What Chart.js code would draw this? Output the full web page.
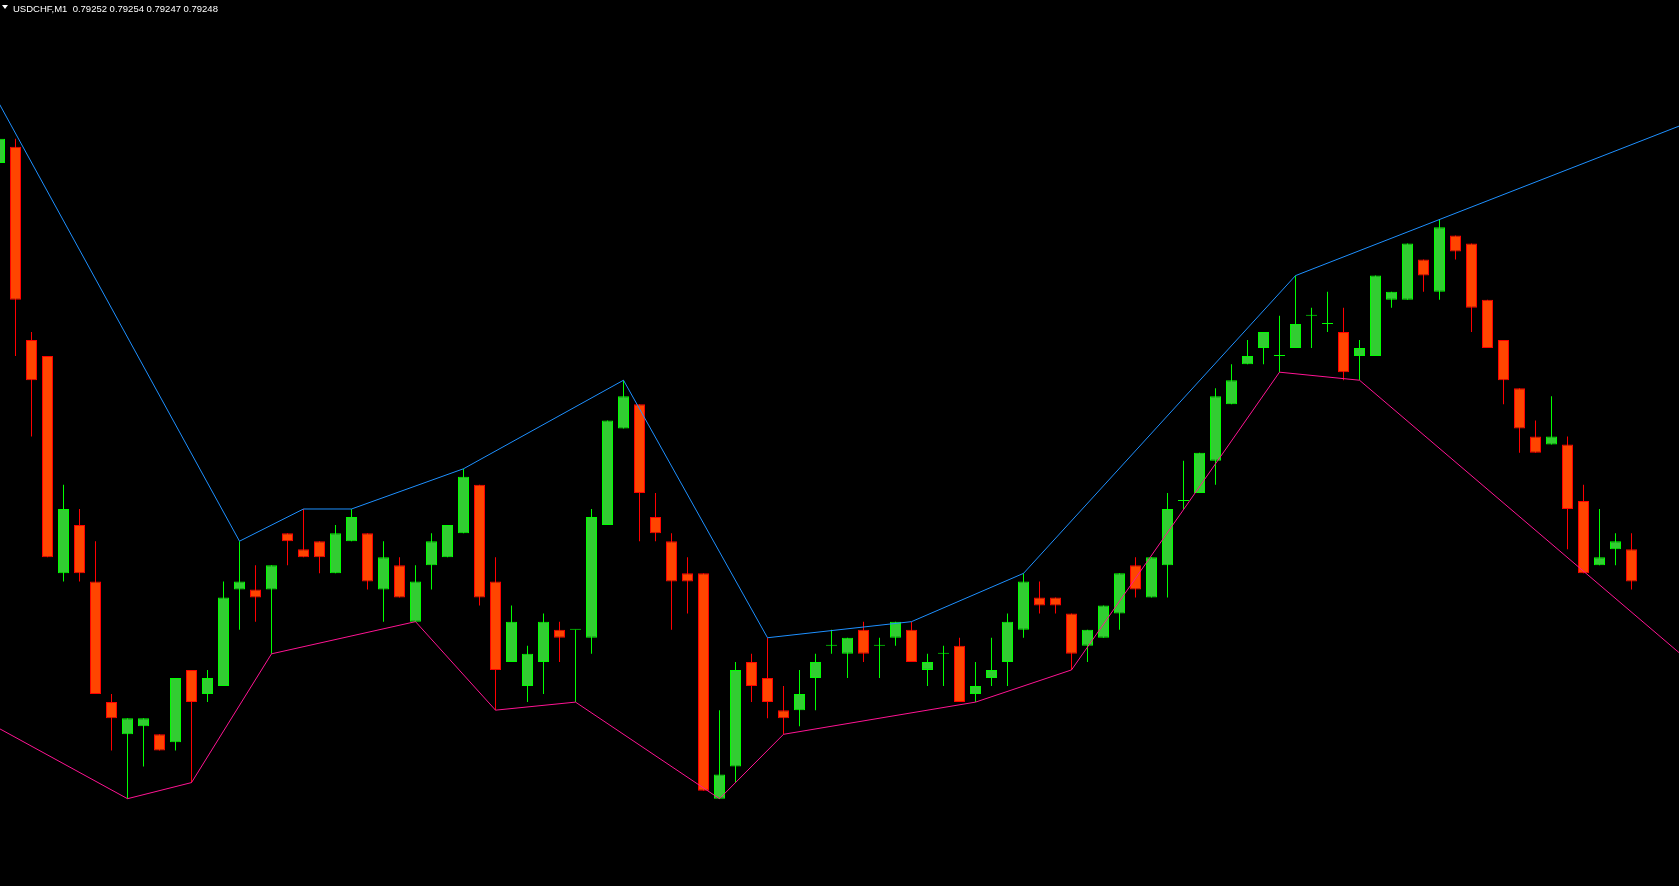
<!DOCTYPE html>
<html>
<head>
<meta charset="utf-8">
<title>USDCHF,M1</title>
<script src="https://cdn.jsdelivr.net/npm/chart.js@4.4.1/dist/chart.umd.min.js"></script>
<style>
  html, body { margin: 0; padding: 0; background: #000; overflow: hidden; }
  #wrap { position: relative; width: 1679px; height: 886px; background: #000; }
  #chart { display: block; }
  #caption {
    position: absolute; left: 13px; top: 4px;
    color: #fff; font-family: "Liberation Sans", Arial, sans-serif;
    font-size: 9.5px; line-height: 10px; white-space: pre;
  }
  #tri {
    position: absolute; left: 2px; top: 5px; width: 0; height: 0;
    border-left: 3px solid transparent; border-right: 3px solid transparent;
    border-top: 4px solid #fff;
  }
</style>
</head>
<body>
<div id="wrap">
  <canvas id="chart" width="1679" height="886"></canvas>
  <div id="tri"></div>
  <div id="caption"></div>
</div>
<script>
// header of the chart window
const symbol = 'USDCHF,M1';
const lastBar = [0.79252, 0.79254, 0.79247, 0.79248]; // O H L C

// one minute candles, oldest first
const opens = [
  0.79300, 0.79302, 0.79278, 0.79276, 0.79249, 0.79255, 0.79248, 0.79233, 0.79229, 0.79230,
  0.79229, 0.79228, 0.79237, 0.79234, 0.79235, 0.79247, 0.79247, 0.79247, 0.79254, 0.79252,
  0.79253, 0.79249, 0.79253, 0.79254, 0.79247, 0.79250, 0.79243, 0.79250, 0.79251, 0.79254,
  0.79260, 0.79248, 0.79238, 0.79235, 0.79238, 0.79242, 0.79242, 0.79241, 0.79255, 0.79267,
  0.79270, 0.79256, 0.79253, 0.79249, 0.79249, 0.79221, 0.79225, 0.79238, 0.79236, 0.79232,
  0.79232, 0.79236, 0.79240, 0.79239, 0.79242, 0.79240, 0.79241, 0.79242, 0.79237, 0.79239,
  0.79240, 0.79234, 0.79236, 0.79238, 0.79242, 0.79246, 0.79246, 0.79244, 0.79240, 0.79241,
  0.79244, 0.79250, 0.79246, 0.79250, 0.79258, 0.79259, 0.79263, 0.79270, 0.79275, 0.79277,
  0.79276, 0.79277, 0.79281, 0.79280, 0.79279, 0.79276, 0.79276, 0.79283, 0.79283, 0.79288,
  0.79284, 0.79291, 0.79290, 0.79283, 0.79278, 0.79272, 0.79266, 0.79265, 0.79265, 0.79258,
  0.79250, 0.79252, 0.79252
];
const highs = [
  0.79304, 0.79303, 0.79279, 0.79276, 0.79260, 0.79257, 0.79253, 0.79234, 0.79231, 0.79231,
  0.79229, 0.79236, 0.79237, 0.79237, 0.79248, 0.79253, 0.79250, 0.79250, 0.79254, 0.79257,
  0.79253, 0.79255, 0.79257, 0.79254, 0.79253, 0.79251, 0.79250, 0.79254, 0.79255, 0.79262,
  0.79260, 0.79251, 0.79245, 0.79240, 0.79244, 0.79243, 0.79242, 0.79257, 0.79268, 0.79273,
  0.79270, 0.79259, 0.79254, 0.79251, 0.79249, 0.79232, 0.79238, 0.79239, 0.79241, 0.79235,
  0.79237, 0.79239, 0.79242, 0.79241, 0.79243, 0.79241, 0.79243, 0.79243, 0.79239, 0.79240,
  0.79241, 0.79238, 0.79241, 0.79244, 0.79249, 0.79248, 0.79246, 0.79244, 0.79242, 0.79245,
  0.79249, 0.79251, 0.79251, 0.79259, 0.79263, 0.79264, 0.79272, 0.79275, 0.79278, 0.79279,
  0.79281, 0.79286, 0.79282, 0.79284, 0.79282, 0.79278, 0.79286, 0.79284, 0.79290, 0.79288,
  0.79293, 0.79291, 0.79290, 0.79283, 0.79278, 0.79272, 0.79268, 0.79271, 0.79266, 0.79260,
  0.79257, 0.79254, 0.79254
];
const lows = [
  0.79299, 0.79276, 0.79266, 0.79251, 0.79248, 0.79248, 0.79234, 0.79227, 0.79221, 0.79225,
  0.79227, 0.79227, 0.79223, 0.79233, 0.79235, 0.79242, 0.79243, 0.79239, 0.79250, 0.79251,
  0.79249, 0.79249, 0.79253, 0.79247, 0.79243, 0.79246, 0.79243, 0.79247, 0.79251, 0.79254,
  0.79245, 0.79232, 0.79238, 0.79233, 0.79234, 0.79238, 0.79233, 0.79239, 0.79255, 0.79267,
  0.79253, 0.79253, 0.79242, 0.79244, 0.79222, 0.79221, 0.79223, 0.79233, 0.79231, 0.79229,
  0.79230, 0.79232, 0.79239, 0.79236, 0.79238, 0.79236, 0.79240, 0.79238, 0.79235, 0.79235,
  0.79233, 0.79233, 0.79235, 0.79235, 0.79241, 0.79244, 0.79244, 0.79237, 0.79238, 0.79241,
  0.79242, 0.79246, 0.79246, 0.79246, 0.79257, 0.79259, 0.79260, 0.79270, 0.79275, 0.79275,
  0.79274, 0.79277, 0.79277, 0.79279, 0.79273, 0.79273, 0.79276, 0.79282, 0.79283, 0.79284,
  0.79283, 0.79288, 0.79279, 0.79277, 0.79270, 0.79264, 0.79264, 0.79265, 0.79252, 0.79249,
  0.79250, 0.79250, 0.79247
];
const closes = [
  0.79303, 0.79283, 0.79273, 0.79251, 0.79257, 0.79249, 0.79234, 0.79231, 0.79231, 0.79231,
  0.79227, 0.79236, 0.79233, 0.79236, 0.79246, 0.79248, 0.79246, 0.79250, 0.79253, 0.79251,
  0.79251, 0.79254, 0.79256, 0.79248, 0.79251, 0.79246, 0.79248, 0.79253, 0.79255, 0.79261,
  0.79246, 0.79237, 0.79243, 0.79239, 0.79243, 0.79241, 0.79242, 0.79256, 0.79268, 0.79271,
  0.79259, 0.79254, 0.79248, 0.79248, 0.79222, 0.79224, 0.79237, 0.79235, 0.79233, 0.79231,
  0.79234, 0.79238, 0.79240, 0.79241, 0.79239, 0.79240, 0.79243, 0.79238, 0.79238, 0.79239,
  0.79233, 0.79235, 0.79237, 0.79243, 0.79248, 0.79245, 0.79245, 0.79239, 0.79242, 0.79245,
  0.79249, 0.79247, 0.79251, 0.79257, 0.79258, 0.79264, 0.79271, 0.79273, 0.79276, 0.79279,
  0.79276, 0.79280, 0.79281, 0.79280, 0.79274, 0.79277, 0.79286, 0.79284, 0.79290, 0.79286,
  0.79292, 0.79289, 0.79282, 0.79277, 0.79273, 0.79267, 0.79264, 0.79266, 0.79257, 0.79249,
  0.79251, 0.79253, 0.79248
];

// channel lines: bar index of each turning point and its price
const upperBars = [0, 15, 19, 22, 29, 39, 48, 57, 64, 81, 105];
const upperVals = [0.793073, 0.79253, 0.79257, 0.79257, 0.79262, 0.79273, 0.79241, 0.79243, 0.79249, 0.79286, 0.793046];
const lowerBars = [0, 8, 12, 17, 26, 31, 36, 45, 49, 61, 67, 80, 85, 105];
const lowerVals = [0.792297, 0.79221, 0.79223, 0.79239, 0.79243, 0.79232, 0.79233, 0.79221, 0.79229, 0.79233, 0.79237, 0.79274, 0.79273, 0.792391];

document.getElementById('caption').textContent =
  symbol + '  ' + lastBar.map(v => v.toFixed(5)).join(' ');

const up = closes.map((c, i) => c >= opens[i]);

new Chart(document.getElementById('chart'), {
  type: 'bar',
  data: {
    datasets: [
      {
        type: 'line',
        data: upperBars.map((x, i) => ({ x: x, y: upperVals[i] })),
        borderColor: '#1E90FF',
        borderWidth: 1,
        pointRadius: 0,
        tension: 0,
        order: 0
      },
      {
        type: 'line',
        data: lowerBars.map((x, i) => ({ x: x, y: lowerVals[i] })),
        borderColor: '#FF1493',
        borderWidth: 1,
        pointRadius: 0,
        tension: 0,
        order: 0
      },
      {
        // bodies
        data: closes.map((c, i) => ({ x: i, y: [opens[i], c] })),
        backgroundColor: up.map(u => u ? '#32CD32' : '#FF4500'),
        borderColor: up.map(u => u ? '#00FF00' : '#FF0000'),
        borderWidth: 1,
        borderSkipped: false,
        inflateAmount: 0,
        minBarLength: 1,
        barThickness: 11,
        grouped: false,
        order: 1
      },
      {
        // wicks
        data: closes.map((c, i) => ({ x: i, y: [lows[i], highs[i]] })),
        backgroundColor: up.map(u => u ? '#00FF00' : '#FF0000'),
        borderWidth: 0,
        inflateAmount: 0,
        minBarLength: 1,
        barThickness: 1,
        grouped: false,
        order: 2
      }
    ]
  },
  options: {
    responsive: false,
    animation: false,
    devicePixelRatio: 1,
    layout: { padding: 0 },
    plugins: { legend: { display: false }, tooltip: { enabled: false } },
    scales: {
      x: { type: 'linear', min: 0.03125, max: 104.96875, offset: false, display: false },
      y: { type: 'linear', min: 0.7921015, max: 0.7932025, display: false }
    }
  }
});
</script>
</body>
</html>
